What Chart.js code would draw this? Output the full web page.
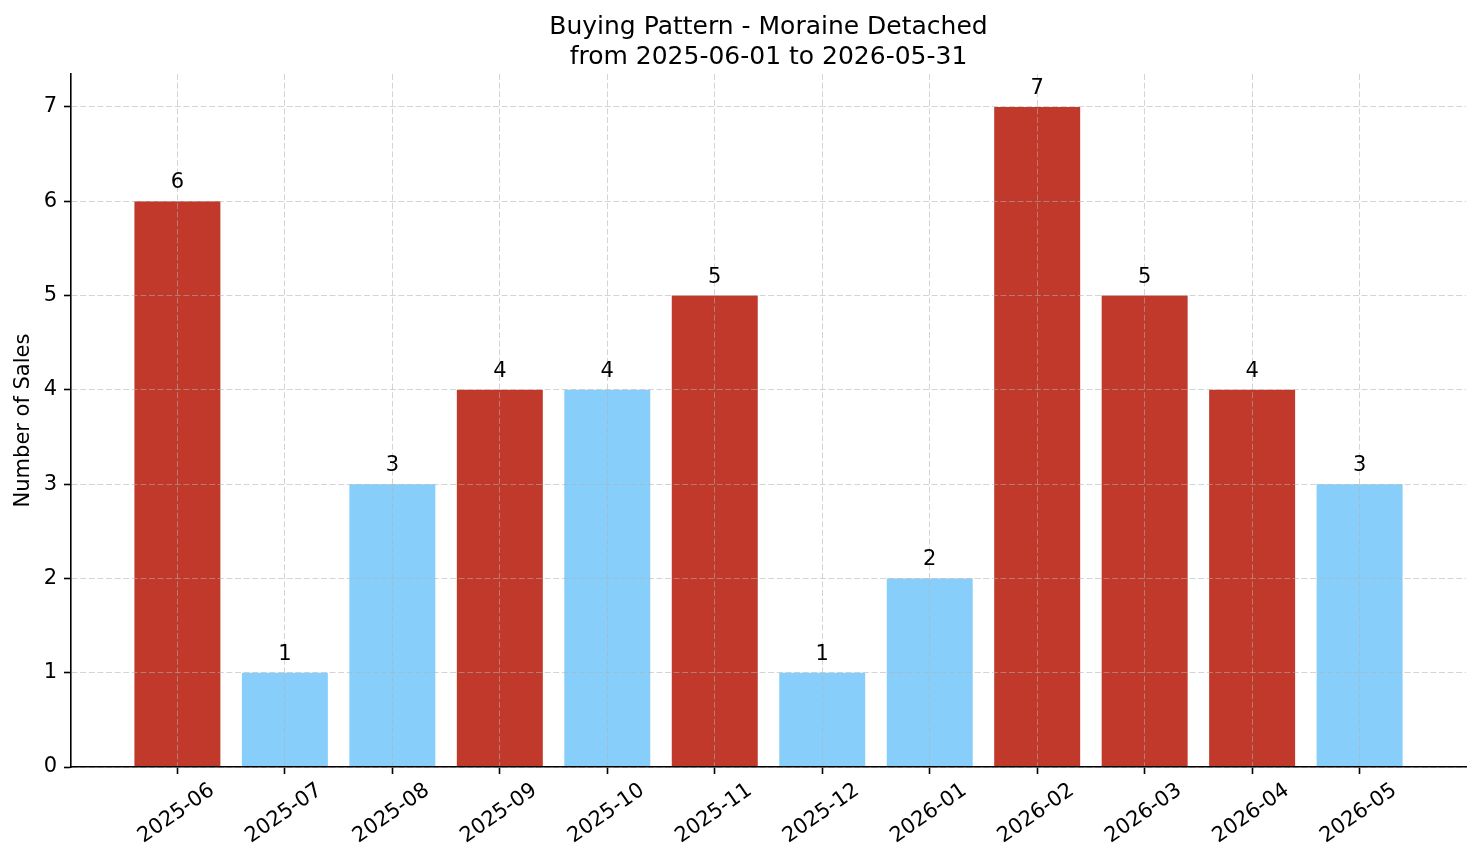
<!DOCTYPE html>
<html>
<head>
<meta charset="utf-8">
<script src="https://cdn.jsdelivr.net/npm/chart.js@4.4.1/dist/chart.umd.min.js"></script>
<style>
  html, body { margin: 0; padding: 0; background: #ffffff; }
  canvas { display: block; }
</style>
</head>
<body>
<canvas id="c" width="1481" height="863"></canvas>
<script>
// ---- data ----
const titleLines = ['Buying Pattern - Moraine Detached', 'from 2025-06-01 to 2026-05-31'];
const yAxisLabel = 'Number of Sales';
const months = ['2025-06','2025-07','2025-08','2025-09','2025-10','2025-11','2025-12','2026-01','2026-02','2026-03','2026-04','2026-05'];
const sales  = [6, 1, 3, 4, 4, 5, 1, 2, 7, 5, 4, 3];
const isPeak = [true, false, false, true, false, true, false, false, true, true, true, false];
const yTicks = [0, 1, 2, 3, 4, 5, 6, 7];

// ---- style ----
const FONT = 'DejaVu Sans';
const RED = '#c0392b';
const BLUE = '#87cefa';
const GRID = 'rgba(176,176,176,0.55)';

const labelPlugin = {
  id: 'customLabels',
  afterDraw(chart) {
    const ctx = chart.ctx;
    const xs = chart.scales.x, ys = chart.scales.y;
    ctx.save();
    ctx.fillStyle = '#000';
    // value labels above bars
    ctx.font = '21px "' + FONT + '"';
    ctx.textAlign = 'center';
    ctx.textBaseline = 'alphabetic';
    const meta = chart.getDatasetMeta(0);
    meta.data.forEach((bar, i) => {
      ctx.fillText(String(sales[i]), bar.x, ys.getPixelForValue(sales[i]) - 13);
    });
    // rotated, centred x tick labels
    ctx.textBaseline = 'middle';
    months.forEach((m, i) => {
      const px = xs.getPixelForValue(i);
      ctx.save();
      ctx.translate(px - 1, xs.top + 46.5);
      ctx.rotate(-35 * Math.PI / 180);
      ctx.fillText(m, 0, 0);
      ctx.restore();
    });
    ctx.restore();
  }
};

const gridOpts = {
  color: GRID,
  lineWidth: 1,
  offset: false,
  z: 1,
  drawTicks: true,
  tickLength: 7,
  tickColor: '#000',
  tickWidth: 1.6,
  tickBorderDash: []
};
const borderOpts = { display: true, color: '#000', width: 1.6, dash: [6, 2.6], z: 2 };

new Chart(document.getElementById('c'), {
  type: 'bar',
  data: {
    datasets: [{
      data: sales.map((v, i) => ({ x: i, y: v })),
      backgroundColor: isPeak.map(p => p ? RED : BLUE),
      borderWidth: 0,
      barPercentage: 0.8,
      categoryPercentage: 1.0
    }]
  },
  options: {
    responsive: false,
    animation: false,
    devicePixelRatio: 1,
    layout: { padding: { left: 0, right: 15, top: 0, bottom: 0 } },
    plugins: {
      legend: { display: false },
      tooltip: { enabled: false },
      title: {
        display: true,
        text: titleLines,
        fullSize: false,
        color: '#000',
        font: { family: FONT, size: 25, weight: 'normal', lineHeight: 1.19 },
        padding: { top: 13, bottom: 1.5 }
      }
    },
    scales: {
      x: {
        type: 'linear',
        min: -0.99,
        max: 11.99,
        offset: false,
        afterBuildTicks: (s) => { s.ticks = months.map((_, i) => ({ value: i })); },
        afterFit: (s) => { s.height = 96; },
        ticks: { display: false, z: 1 },
        grid: gridOpts,
        border: borderOpts
      },
      y: {
        type: 'linear',
        min: 0,
        max: 7.35,
        afterBuildTicks: (s) => { s.ticks = yTicks.map(v => ({ value: v })); },
        afterFit: (s) => { s.width = 71; },
        ticks: {
          color: '#000',
          font: { family: FONT, size: 21 },
          padding: 7,
          z: 1,
          callback: (v) => String(v)
        },
        grid: gridOpts,
        border: borderOpts,
        title: {
          display: true,
          text: yAxisLabel,
          color: '#000',
          font: { family: FONT, size: 21, lineHeight: 1.2 },
          padding: { top: 11, bottom: 0 }
        }
      }
    }
  },
  plugins: [labelPlugin]
});
</script>
</body>
</html>
